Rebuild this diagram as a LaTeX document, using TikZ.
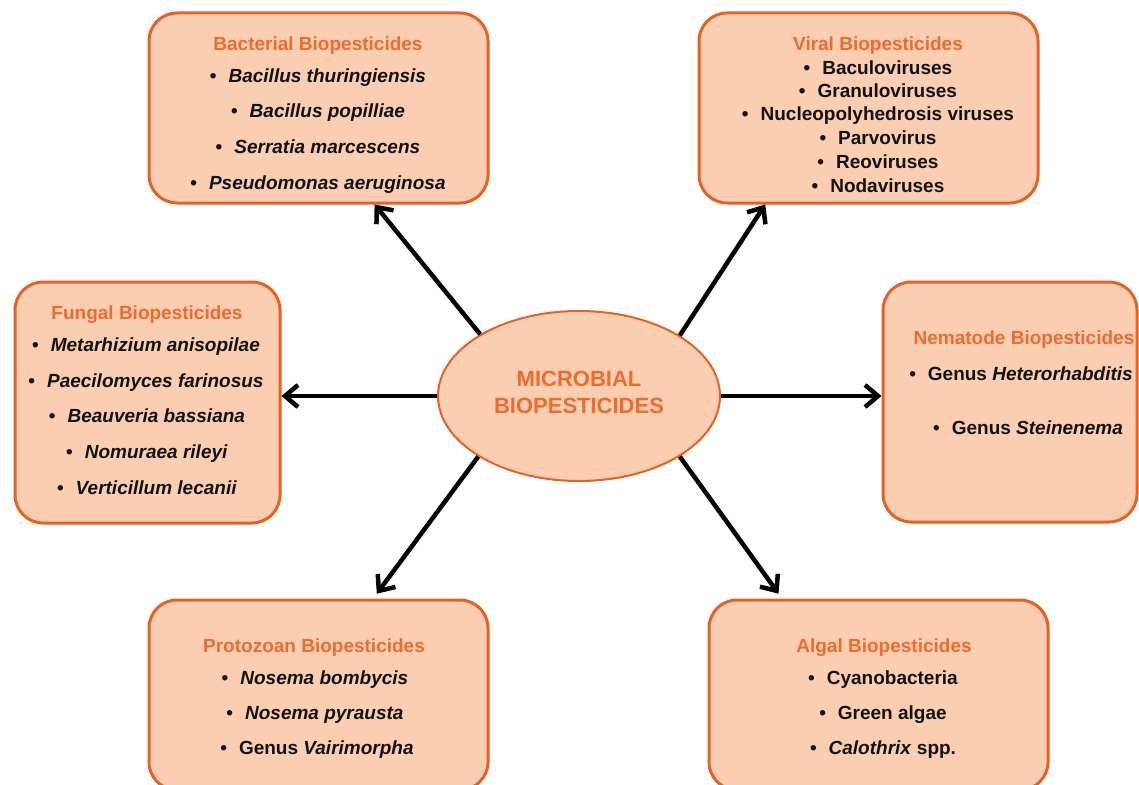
\documentclass[tikz,border=0pt]{standalone}
\usepackage{fontspec}
\setmainfont{Liberation Sans}
\usetikzlibrary{arrows.meta,calc,shapes.geometric}
\definecolor{boxfill}{RGB}{251,206,178}
\definecolor{boxline}{RGB}{229,98,38}
\definecolor{titlecol}{RGB}{236,108,48}
\definecolor{itemcol}{RGB}{18,18,18}
\begin{document}
\begin{tikzpicture}[x=1pt,y=-1pt,
  catbox/.style={draw=boxline, line width=3pt, fill=boxfill, rounded corners=28pt, inner sep=0pt},
  ttl/.style={font=\fontsize{19}{22}\selectfont\bfseries, text=titlecol, text height=14pt, text depth=4pt, inner sep=0pt, yshift=-2.5pt},
  itm/.style={font=\fontsize{19}{22}\selectfont\bfseries, text=itemcol, text height=14pt, text depth=4pt, inner sep=0pt, yshift=-2.5pt},
  link/.style={line width=4.5pt, -{Straight Barb[length=13pt,width=22pt]}}]
\useasboundingbox (0,0) rectangle (1139,784);
\clip (0,0) rectangle (1139,784);
\fill[white] (0,0) rectangle (1139,784);

% boxes
\node[catbox, minimum width=339pt, minimum height=190pt] (bact) at (318.5,108) {};
\node[catbox, minimum width=339pt, minimum height=190pt] (vir) at (868.5,108) {};
\node[catbox, minimum width=265pt, minimum height=241pt] (fung) at (147.5,402.5) {};
\node[catbox, minimum width=254pt, minimum height=240pt] (nema) at (1010,402) {};
\node[catbox, minimum width=339pt, minimum height=190pt] (proto) at (318.5,695) {};
\node[catbox, minimum width=339pt, minimum height=190pt] (alg) at (878.5,695) {};

% centre
\node[ellipse, draw=boxline, line width=2pt, fill=boxfill, minimum width=282pt, minimum height=170pt,
      inner sep=0pt, align=center, text=titlecol, font=\fontsize{22}{27}\selectfont\bfseries]
      (cent) at (579,396) {MICROBIAL\\BIOPESTICIDES\\[-19pt]\mbox{}};

% bacterial
\node[ttl] (bact-t) at (318,43) {Bacterial Biopesticides};
\node[itm] (bact-1) at (318,75) {•\hspace{12pt}\textit{Bacillus thuringiensis}};
\node[itm] (bact-2) at (318,110) {•\hspace{12pt}\textit{Bacillus popilliae}};
\node[itm] (bact-3) at (318,146) {•\hspace{12pt}\textit{Serratia marcescens}};
\node[itm] (bact-4) at (318,182) {•\hspace{12pt}\textit{Pseudomonas aeruginosa}};

% viral
\node[ttl] (vir-t) at (878,43) {Viral Biopesticides};
\node[itm] (vir-1) at (878,67) {•\hspace{12pt}Baculoviruses};
\node[itm] (vir-2) at (878,90) {•\hspace{12pt}Granuloviruses};
\node[itm] (vir-3) at (878,113) {•\hspace{12pt}Nucleopolyhedrosis viruses};
\node[itm] (vir-4) at (878,137) {•\hspace{12pt}Parvovirus};
\node[itm] (vir-5) at (878,161) {•\hspace{12pt}Reoviruses};
\node[itm] (vir-6) at (878,185) {•\hspace{12pt}Nodaviruses};

% fungal
\node[ttl] (fung-t) at (147,312) {Fungal Biopesticides};
\node[itm] (fung-1) at (146,344) {•\hspace{12pt}\textit{Metarhizium anisopilae}};
\node[itm] (fung-2) at (146,380) {•\hspace{12pt}\textit{Paecilomyces farinosus}};
\node[itm] (fung-3) at (147,415) {•\hspace{12pt}\textit{Beauveria bassiana}};
\node[itm] (fung-4) at (147,451) {•\hspace{12pt}\textit{Nomuraea rileyi}};
\node[itm] (fung-5) at (147,487) {•\hspace{12pt}\textit{Verticillum lecanii}};

% nematode
\node[ttl] (nema-t) at (1024,337) {Nematode Biopesticides};
\node[itm] (nema-1) at (1021,373) {•\hspace{12pt}Genus \textit{Heterorhabditis}};
\node[itm] (nema-2) at (1028,427) {•\hspace{12pt}Genus \textit{Steinenema}};

% protozoan
\node[ttl] (proto-t) at (314,645) {Protozoan Biopesticides};
\node[itm] (proto-1) at (315,677) {•\hspace{12pt}\textit{Nosema bombycis}};
\node[itm] (proto-2) at (315,712) {•\hspace{12pt}\textit{Nosema pyrausta}};
\node[itm] (proto-3) at (317,747) {•\hspace{12pt}Genus \textit{Vairimorpha}};

% algal
\node[ttl] (alg-t) at (884,645) {Algal Biopesticides};
\node[itm] (alg-1) at (883,677) {•\hspace{12pt}Cyanobacteria};
\node[itm] (alg-2) at (883,712) {•\hspace{12pt}Green algae};
\node[itm] (alg-3) at (883,747) {•\hspace{12pt}\textit{Calothrix} spp.};

% connectors
\draw[link] (cent.148) -- ($(bact.south west)!0.664!(bact.south east)$);
\draw[link] (cent.31) -- ($(vir.south west)!0.198!(vir.south east)$);
\draw[link] (cent.west) -- (cent.west -| fung.east);
\draw[link] (cent.east) -- (cent.east -| nema.west);
\draw[link, shorten >=6pt] (cent.211) -- ($(proto.north west)!0.66!(proto.north east)$);
\draw[link, shorten >=6pt] (cent.329) -- ($(alg.north west)!0.218!(alg.north east)$);
\end{tikzpicture}
\end{document}
